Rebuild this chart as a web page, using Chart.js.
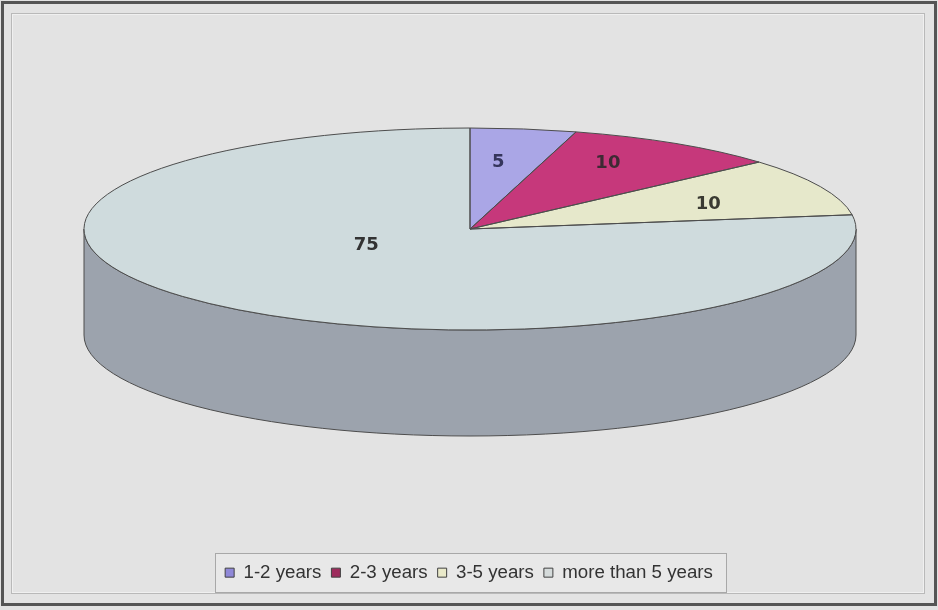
<!DOCTYPE html>
<html>
<head>
<meta charset="utf-8">
<script src="https://cdn.jsdelivr.net/npm/chart.js@4/dist/chart.umd.min.js"></script>
<style>
  html, body { margin: 0; padding: 0; background: #e3e3e3; }
  #wrap { width: 938px; height: 610px; position: relative; }
</style>
</head>
<body>
<div id="wrap"><canvas id="c" width="938" height="610"></canvas></div>
<script>
// ---- data ----
const categories = ['1-2 years', '2-3 years', '3-5 years', 'more than 5 years'];
const values = [5, 10, 10, 75];

// ---- styles ----
const topColors = ['#aaa6e6', '#c6387b', '#e6e8cb', '#cfdbdd'];
const sideColors = ['#7f7bb0', '#93295b', '#b3b49c', '#9ca3ad'];
const legendColors = ['#8f88d8', '#9d2b5c', '#e9e9c9', '#d5dbdb'];
const labelColors = ['#35355c', '#3d2a33', '#3a3a32', '#333333'];
// label placement as fractions of the ellipse radii along each slice's projected mid angle
const labelFrac = [[0.53, 0.70], [0.67, 0.80], [0.68, 0.66], [0.41, 0.17]];

const geom = { cx: 470, cy: 229, rx: 386, ry: 101, depth: 106, warp: 0.12 };

// 3D-view warp of the angle (measured from 12 o'clock), keeps 0 and full turn fixed
function proj(angle) {
  const TAU = Math.PI * 2;
  const phi = angle + Math.PI / 2;
  return phi * (1 - geom.warp * (1 - phi / TAU)) - Math.PI / 2;
}

const framePlugin = {
  id: 'frame',
  beforeDraw(chart) {
    const ctx = chart.ctx;
    ctx.save();
    ctx.fillStyle = '#e3e3e3';
    ctx.fillRect(0, 0, chart.width, chart.height);
    ctx.strokeStyle = '#555555';
    ctx.lineWidth = 3;
    ctx.strokeRect(2.5, 2.5, 933, 602);
    ctx.strokeStyle = '#b9b9b9';
    ctx.lineWidth = 1;
    ctx.strokeRect(11.5, 13.5, 913, 580);
    ctx.strokeStyle = '#f0f0f0';
    ctx.strokeRect(12.5, 14.5, 911, 578);
    const lg = chart.legend;
    if (lg && lg.legendHitBoxes && lg.legendHitBoxes.length) {
      const hb = lg.legendHitBoxes;
      let l = Infinity, r = -Infinity, t = Infinity, b = -Infinity;
      hb.forEach(h => { l = Math.min(l, h.left); r = Math.max(r, h.left + h.width); t = Math.min(t, h.top); b = Math.max(b, h.top + h.height); });
      const x0 = Math.round(l - 10) + 0.5, x1 = Math.round(r + 13) + 0.5;
      const y0 = Math.round(t - 10) + 0.5, y1 = Math.round(b + 10) + 0.5;
      ctx.fillStyle = '#e8e8e8';
      ctx.fillRect(x0, y0, x1 - x0, y1 - y0);
      ctx.strokeStyle = '#a8a8a8';
      ctx.strokeRect(x0, y0, x1 - x0, y1 - y0);
    }
    ctx.restore();
  }
};

const pie3d = {
  id: 'pie3d',
  beforeDatasetsDraw(chart) {
    const ctx = chart.ctx;
    const arcs = chart.getDatasetMeta(0).data;
    const { cx, cy, rx, ry, depth } = geom;
    const ang = arcs.map(a => [proj(a.startAngle), proj(a.endAngle)]);
    ctx.save();
    ctx.lineWidth = 1;
    ctx.strokeStyle = '#4d4d4d';
    // side walls (front half only)
    arcs.forEach((arc, i) => {
      const a = Math.max(ang[i][0], 0), b = Math.min(ang[i][1], Math.PI);
      if (b <= a) return;
      ctx.beginPath();
      ctx.ellipse(cx, cy, rx, ry, 0, a, b);
      ctx.ellipse(cx, cy + depth, rx, ry, 0, b, a, true);
      ctx.closePath();
      ctx.fillStyle = sideColors[i];
      ctx.fill();
      ctx.stroke();
    });
    // top faces: the library's arc elements, projected onto the tilted ellipse
    arcs.forEach((arc, i) => {
      const saved = { s: arc.startAngle, e: arc.endAngle, c: arc.circumference };
      arc.startAngle = ang[i][0];
      arc.endAngle = ang[i][1];
      arc.circumference = ang[i][1] - ang[i][0];
      ctx.save();
      ctx.translate(cx, cy);
      ctx.scale(rx / arc.outerRadius, ry / arc.outerRadius);
      ctx.translate(-arc.x, -arc.y);
      arc.draw(ctx);
      ctx.restore();
      arc.startAngle = saved.s;
      arc.endAngle = saved.e;
      arc.circumference = saved.c;
    });
    // outlines
    ang.forEach(([s, e]) => {
      ctx.beginPath();
      ctx.moveTo(cx, cy);
      ctx.ellipse(cx, cy, rx, ry, 0, s, e);
      ctx.closePath();
      ctx.stroke();
    });
    // value labels
    ctx.font = 'bold 18px "DejaVu Sans", Verdana, sans-serif';
    ctx.textAlign = 'center';
    ctx.textBaseline = 'middle';
    ang.forEach(([s, e], i) => {
      const mid = (s + e) / 2;
      const x = cx + rx * labelFrac[i][0] * Math.cos(mid);
      const y = cy + ry * labelFrac[i][1] * Math.sin(mid) + 3;
      ctx.fillStyle = labelColors[i];
      ctx.fillText(String(values[i]), x, y);
    });
    ctx.restore();
    return false;
  }
};

new Chart(document.getElementById('c'), {
  type: 'pie',
  data: {
    labels: categories,
    datasets: [{
      data: values,
      backgroundColor: topColors,
      borderWidth: 0
    }]
  },
  options: {
    responsive: false,
    animation: false,
    layout: { padding: { top: 20, bottom: 18, left: 20, right: 20 } },
    plugins: {
      tooltip: { enabled: false },
      legend: {
        position: 'bottom',
        labels: {
          boxWidth: 9,
          boxHeight: 9,
          padding: 10,
          color: '#333333',
          font: { size: 18.7, family: '"Liberation Sans", Arial, sans-serif' },
          generateLabels(chart) {
            return chart.data.labels.map((l, i) => ({
              text: l,
              fillStyle: legendColors[i],
              strokeStyle: '#404040',
              lineWidth: 1,
              hidden: false,
              index: i,
              fontColor: '#333333'
            }));
          }
        }
      }
    }
  },
  plugins: [framePlugin, pie3d]
});
</script>
</body>
</html>
